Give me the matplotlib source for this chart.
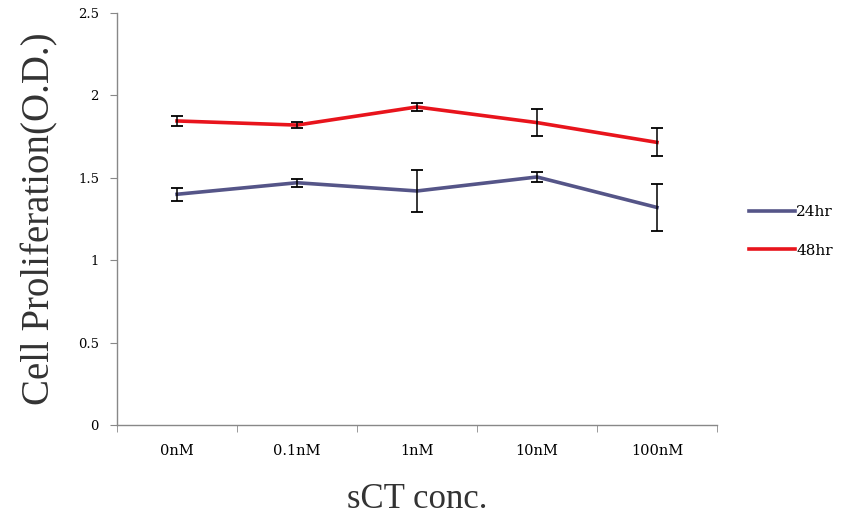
import numpy as np
import matplotlib
matplotlib.use("Agg")
import matplotlib.pyplot as plt

# sCT concentrations and optical density readings
concs = ["0nM", "0.1nM", "1nM", "10nM", "100nM"]
od_24hr = [1.40, 1.47, 1.42, 1.505, 1.32]
err_24hr = [0.04, 0.025, 0.125, 0.028, 0.145]
od_48hr = [1.845, 1.82, 1.93, 1.835, 1.715]
err_48hr = [0.028, 0.02, 0.024, 0.08, 0.085]
yticks = [0, 0.5, 1, 1.5, 2, 2.5]

fig = plt.figure(figsize=(8.51, 5.22), dpi=100)
ax = fig.add_axes([0.1375, 0.186, 0.705, 0.789])

x = np.arange(len(concs))
ax.plot(x, od_24hr, color="#555588", lw=2.6, label="24hr", zorder=3)
ax.plot(x, od_48hr, color="#e8141c", lw=2.6, label="48hr", zorder=3)
ax.errorbar(x, od_24hr, yerr=err_24hr, fmt="none", ecolor="black",
            elinewidth=1.1, capsize=4.5, capthick=1.3, zorder=4)
ax.errorbar(x, od_48hr, yerr=err_48hr, fmt="none", ecolor="black",
            elinewidth=1.1, capsize=4.5, capthick=1.3, zorder=4)

ax.set_xlim(-0.5, len(concs) - 0.5)
ax.set_ylim(0, 2.5)
ax.set_yticks(yticks)
ax.set_yticklabels(["0", "0.5", "1", "1.5", "2", "2.5"],
                   fontfamily="DejaVu Serif", fontsize=9.5)
ax.set_xticks(x)
ax.set_xticklabels(concs, fontfamily="DejaVu Serif", fontsize=10.5)
# tick marks sit between categories
ax.set_xticks(np.arange(-0.5, len(concs)), minor=True)
ax.tick_params(axis="x", which="major", length=0, pad=14)
ax.tick_params(axis="x", which="minor", length=5, color="#888888", direction="out")
ax.tick_params(axis="y", length=5, color="#888888", direction="out", pad=8)

for side in ["top", "right"]:
    ax.spines[side].set_visible(False)
for side in ["left", "bottom"]:
    ax.spines[side].set_color("#888888")
    ax.spines[side].set_linewidth(1.0)

ax.set_ylabel("Cell Proliferation(O.D.)", fontfamily="Liberation Serif",
              fontsize=28, color="#333333", labelpad=14)
ax.set_xlabel("sCT conc.", fontfamily="Liberation Serif", fontsize=25,
              color="#333333", labelpad=18)

leg = ax.legend(loc="center left", bbox_to_anchor=(1.03, 0.47), frameon=False,
                prop={"family": "DejaVu Serif", "size": 11},
                handlelength=3.0, handletextpad=0.1, labelspacing=1.6)

fig.savefig("out.png", dpi=100)
